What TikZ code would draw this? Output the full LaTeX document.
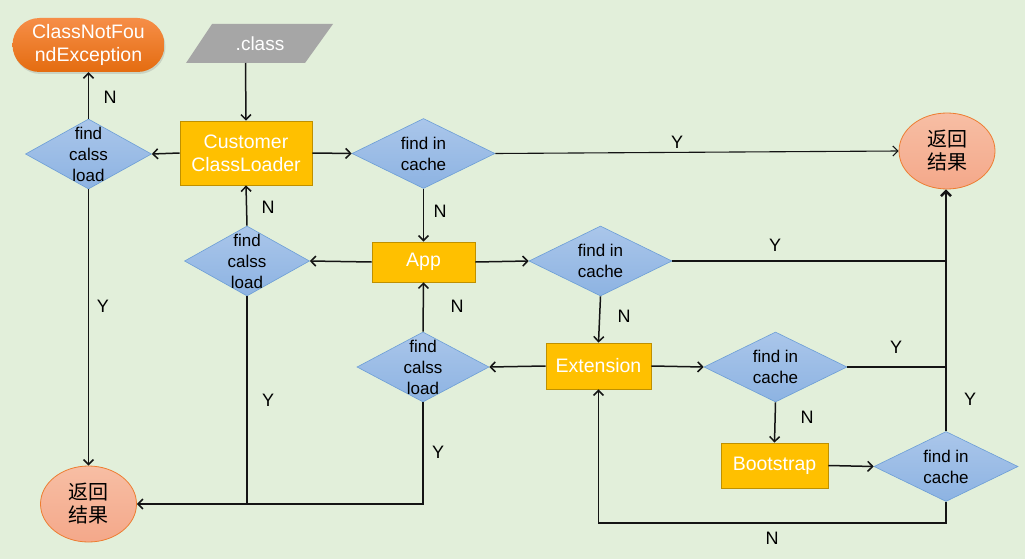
\documentclass[tikz,border=0pt]{standalone}
\usepackage{fontspec}
\setmainfont{Liberation Sans}
\newfontfamily\cjk{Noto Sans CJK SC}
\usetikzlibrary{shapes.geometric,arrows.meta,shadows}
\definecolor{bg}{RGB}{226,239,218}
\definecolor{boxfill}{RGB}{255,192,0}
\definecolor{boxborder}{RGB}{191,144,0}
\definecolor{diatop}{RGB}{170,198,234}
\definecolor{diabot}{RGB}{141,179,226}
\definecolor{diaborder}{RGB}{108,158,214}
\definecolor{rettop}{RGB}{247,190,164}
\definecolor{retbot}{RGB}{244,168,138}
\definecolor{retborder}{RGB}{237,125,49}
\definecolor{exctop}{RGB}{246,142,72}
\definecolor{excbot}{RGB}{228,108,16}
\definecolor{para}{RGB}{166,166,166}
\definecolor{ln}{RGB}{20,20,20}
\begin{document}
\begin{tikzpicture}[x=1pt,y=-1pt,
  >={Straight Barb[length=5pt,width=10pt]},
  box/.style={rectangle, draw=boxborder, fill=boxfill, text=white, line width=0.8pt,
    font=\fontsize{19.5}{23}\selectfont, align=center, inner sep=0pt},
  dialab/.style={font=\fontsize{17}{21}\selectfont, align=center, inner sep=0pt, text=black},
  dia/.style={diamond, draw=diaborder, line width=0.6pt, top color=diatop, bottom color=diabot,
    inner sep=0pt, minimum height=70pt, label={[dialab]center:#1}},
  ret/.style={ellipse, draw=retborder, line width=0.8pt, top color=rettop, bottom color=retbot,
    minimum width=96pt, minimum height=76pt, inner sep=0pt, align=center,
    font=\cjk\fontsize{20}{23}\selectfont},
  lab/.style={font=\fontsize{18}{18}\selectfont, inner sep=0pt},
  conn/.style={draw=ln, line width=1.5pt},
  thick conn/.style={draw=ln, line width=2.5pt}
]
\fill[bg] (0,0) rectangle (1025,559);
\useasboundingbox (0,0) rectangle (1025,559);

% exception
\node[rectangle, rounded corners=27pt, top color=exctop, bottom color=excbot,
  drop shadow={opacity=0.25, shadow xshift=1pt, shadow yshift=-2pt},
  minimum width=152pt, minimum height=54pt, inner sep=0pt, text=white,
  align=center, font=\fontsize{19.5}{23}\selectfont] (exc) at (88.5,45) {ClassNotFou\\ndException};

% .class parallelogram
\fill[para] (212,24) -- (333,24) -- (305,63) -- (186,63) -- cycle;
\node[text=white, font=\fontsize{19}{23}\selectfont, inner sep=0pt] (cls) at (260,44) {.class};
\coordinate (clsb) at (245.5,63);

% boxes
\node[box, minimum width=132pt, minimum height=64pt] (cust) at (246,153) {Customer\\ClassLoader};
\node[box, minimum width=103pt, minimum height=40pt] (app) at (423.5,262) {App};
\node[box, minimum width=105pt, minimum height=46pt] (ext) at (598.5,366) {Extension};
\node[box, minimum width=107pt, minimum height=45pt] (boot) at (774.5,465.5) {Bootstrap};

% diamonds
\node[dia={find\\calss\\load}, minimum width=126pt] (d1) at (88.5,154) {};
\node[dia={find\\calss\\load}, minimum width=125pt] (d2) at (247,261) {};
\node[dia={find\\calss\\load}, minimum width=132pt] (d3) at (423,367) {};
\node[dia={find in\\cache}, minimum width=143pt] (c1) at (423.5,153.5) {};
\node[dia={find in\\cache}, minimum width=143pt] (c2) at (600.5,261) {};
\node[dia={find in\\cache}, minimum width=143pt] (c3) at (775.5,367) {};
\node[dia={find in\\cache}, minimum width=144pt] (c4) at (946,466.5) {};

% results
\node[ret] (r1) at (947,151) {返回\\结果};
\node[ret] (r2) at (88.5,504) {返回\\结果};

% connectors
\draw[conn,->] (clsb) -- (cust.north);
\draw[conn,->] (cust.west) -- (d1.east);
\draw[conn,->] (d1.north) -- (exc.south);
\draw[conn,->] (d1.south) -- (r2.north);
\draw[conn,->] (cust.east) -- (c1.west);
\draw[draw=ln, line width=1.1pt,->] (c1.east) -- (r1.west);
\draw[conn,->] (c1.south) -- (app.north);
\draw[conn,->] (app.west) -- (d2.east);
\draw[conn,->] (d2.north) -- (cust.south);
\draw[conn] (d2.south) -- (d2.south |- r2.east);
\draw[conn,->] (app.east) -- (c2.west);
\draw[conn] (c2.east) -- (c2.east -| r1.south);
\draw[conn,->] (c2.south) -- (ext.north);
\draw[conn,->] (ext.west) -- (d3.east);
\draw[conn,->] (d3.north) -- (app.south);
\draw[conn,->] (d3.south) -- (d3.south |- r2.east) -- (r2.east);
\draw[conn,->] (ext.east) -- (c3.west);
\draw[conn] (c3.east) -- (c3.east -| r1.south);
\draw[conn,->] (c3.south) -- (boot.north);
\draw[conn,->] (boot.east) -- (c4.west);
\draw[thick conn,->] (c4.north) -- (c4.north |- r1.south);
\draw[conn,->] (c4.south) -- ++(0,21) -| (ext.south);

% labels
\node[lab] (l1) at (110,97) {N};
\node[lab] (l2) at (103,306) {Y};
\node[lab] (l3) at (268,207) {N};
\node[lab] (l4) at (268,400) {Y};
\node[lab] (l5) at (677,142) {Y};
\node[lab] (l6) at (440,211) {N};
\node[lab] (l7) at (457,306) {N};
\node[lab] (l8) at (438,452) {Y};
\node[lab] (l9) at (775,245) {Y};
\node[lab] (l10) at (624,316) {N};
\node[lab] (l11) at (896,347) {Y};
\node[lab] (l12) at (807,417) {N};
\node[lab] (l13) at (970,399) {Y};
\node[lab] (l14) at (772,538) {N};
\end{tikzpicture}
\end{document}
